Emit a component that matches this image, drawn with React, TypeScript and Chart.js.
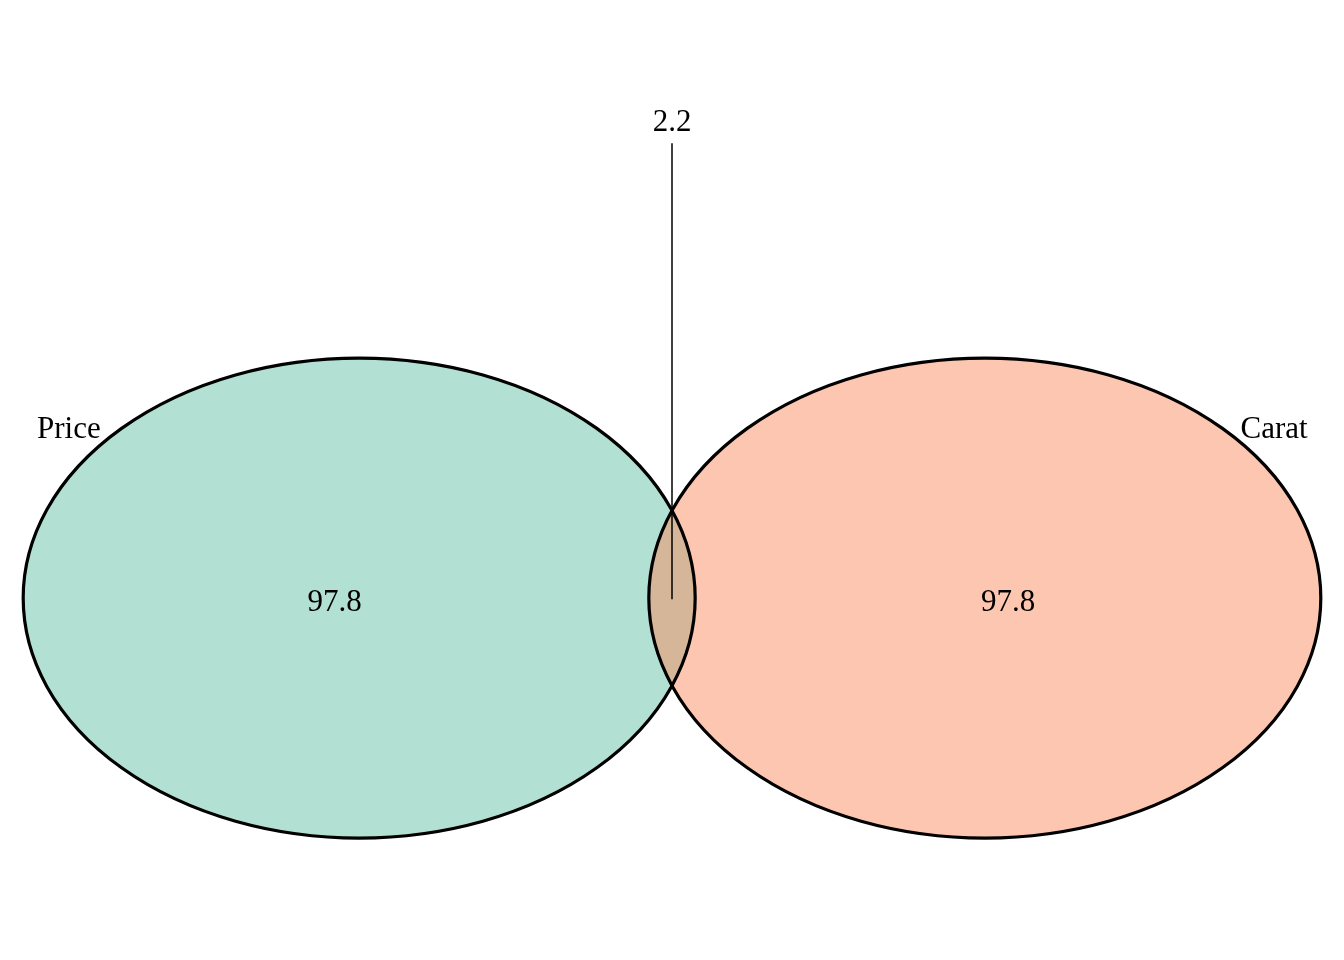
import { useEffect, useRef } from "react";
import { Chart, registerables } from "chart.js";

Chart.register(...registerables);

// sets (circles in data units)
const setNames = ["Price", "Carat"];
const setCenterX = [-0.931, 0.931];
const setCenterY = [0, 0];
const setRadius = [1, 1];
const setColors = ["rgba(102,194,165,0.5)", "rgba(252,141,98,0.5)"];

// set name positions
const nameX = [-1.795, 1.792];
const nameY = [0.7, 0.7];

// region values
const regionLabels = ["97.8", "2.2", "97.8"];
const regionX = [-1.004, 0, 1.0];
const regionY = [-0.02, 1.982, -0.02];

// leader line for the intersection label
const leaderX = [0, 0];
const leaderY = [1.895, -0.005];

const FONT = '31px "Liberation Serif", "Times New Roman", serif';

const vennPlugin = {
  id: "venn",
  afterDatasetsDraw(chart: Chart) {
    const ctx = chart.ctx;
    const x = chart.scales.x;
    const y = chart.scales.y;
    ctx.save();

    const ellipse = (i: number) => {
      const cx = x.getPixelForValue(setCenterX[i]);
      const cy = y.getPixelForValue(setCenterY[i]);
      const rx = Math.abs(x.getPixelForValue(setCenterX[i] + setRadius[i]) - cx);
      const ry = Math.abs(y.getPixelForValue(setCenterY[i] + setRadius[i]) - cy);
      ctx.beginPath();
      ctx.ellipse(cx, cy, rx, ry, 0, 0, Math.PI * 2);
    };

    // fills
    setNames.forEach((_, i) => {
      ellipse(i);
      ctx.fillStyle = setColors[i];
      ctx.fill();
    });

    // outlines
    ctx.strokeStyle = "#000";
    ctx.lineWidth = 3.2;
    setNames.forEach((_, i) => {
      ellipse(i);
      ctx.stroke();
    });

    // leader line
    ctx.lineWidth = 1.5;
    ctx.beginPath();
    ctx.moveTo(x.getPixelForValue(leaderX[0]), y.getPixelForValue(leaderY[0]));
    ctx.lineTo(x.getPixelForValue(leaderX[1]), y.getPixelForValue(leaderY[1]));
    ctx.stroke();

    // texts
    ctx.fillStyle = "#000";
    ctx.font = FONT;
    ctx.textAlign = "center";
    ctx.textBaseline = "middle";
    setNames.forEach((name, i) => {
      ctx.fillText(name, x.getPixelForValue(nameX[i]), y.getPixelForValue(nameY[i]));
    });
    regionLabels.forEach((label, i) => {
      ctx.fillText(label, x.getPixelForValue(regionX[i]), y.getPixelForValue(regionY[i]));
    });

    ctx.restore();
  },
};

export default function App() {
  const chartRef = useRef<HTMLCanvasElement>(null);
  const chartInstance = useRef<Chart | null>(null);

  useEffect(() => {
    document.body.style.margin = "0";
    if (!chartRef.current) return;
    if (chartInstance.current) {
      chartInstance.current.destroy();
    }
    const ctx = chartRef.current.getContext("2d");
    if (!ctx) return;

    chartInstance.current = new Chart(ctx, {
      type: "scatter",
      data: {
        datasets: [
          {
            label: "regions",
            data: regionX.map((v, i) => ({ x: v, y: regionY[i] })),
            pointRadius: 0,
          },
        ],
      },
      options: {
        responsive: true,
        maintainAspectRatio: false,
        animation: false,
        layout: { padding: 0 },
        plugins: {
          legend: { display: false },
          tooltip: { enabled: false },
        },
        scales: {
          x: { type: "linear", min: -2, max: 2, display: false },
          y: { type: "linear", min: -1.508, max: 2.492, display: false },
        },
      },
      plugins: [vennPlugin],
    });

    return () => {
      if (chartInstance.current) {
        chartInstance.current.destroy();
        chartInstance.current = null;
      }
    };
  }, []);

  return (
    <div style={{ width: 1344, height: 960, background: "#fff" }}>
      <canvas ref={chartRef} />
    </div>
  );
}
